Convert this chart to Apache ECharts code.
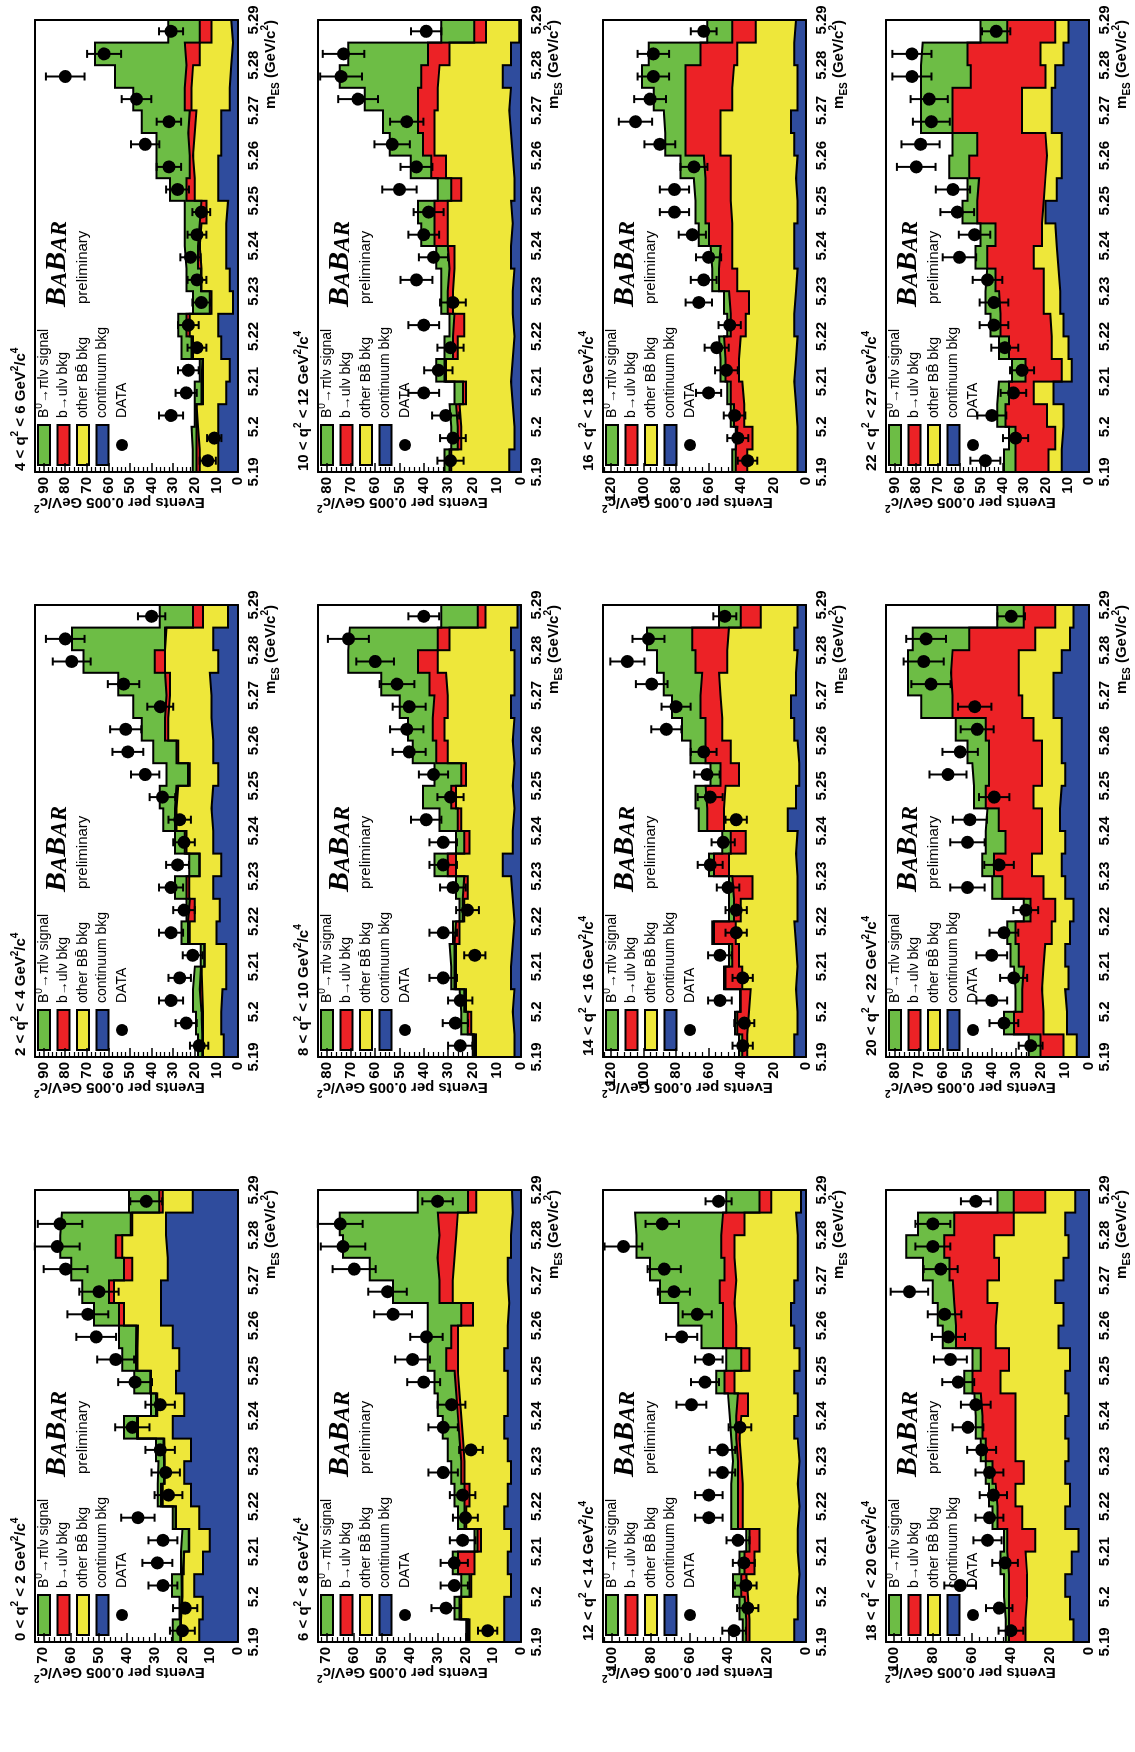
<!DOCTYPE html>
<html><head><meta charset="utf-8">
<script src="https://cdn.jsdelivr.net/npm/echarts@6.0.0/dist/echarts.min.js"></script>
<style>
html,body{margin:0;padding:0;overflow:hidden;background:#fff;width:1135px;height:1752px;}
#chart{position:absolute;left:0;top:0;width:1752px;height:1135px;transform-origin:0 0;transform:translate(0,1752px) rotate(-90deg);background:#fff;}
</style></head><body><div id="chart"></div>
<script>
// ---- bin edges of m_ES (GeV/c^2) ----
const binEdges = [5.19,5.195,5.2,5.205,5.21,5.215,5.22,5.225,5.23,5.235,5.24,5.245,5.25,5.255,5.26,5.265,5.27,5.275,5.28,5.285,5.29];
// ---- q^2 ranges of the 12 panels ----
const q2Low  = [0,2,4,6,8,10,12,14,16,18,20,22];
const q2High = [2,4,6,8,10,12,14,16,18,20,22,27];
const yMax   = [73,94,94,73,83.5,83.5,104.5,125,125,104,83.5,94];
const yStep  = [10,10,10,10,10,10,20,20,20,20,10,10];

// ---- 0 < q2 < 2 ----
const cont_q0_2 = [13.9,12.7,15.7,12.6,10.2,13.9,16.9,19.3,16.9,23.5,19.3,22.3,21.1,23.5,27.7,27.7,25.3,25.9,25.9,16.3];
const bb_q0_2   = [6.6,7.3,4.3,6.7,7.3,8.4,10.2,7.0,9.6,12.5,9.7,9.0,15.0,12.5,13.3,16.9,12.7,15.7,12.1,10.8];
const bulv_q0_2 = [0.3,0.2,0.3,0.2,0.2,0.2,0.6,0.3,0.4,0.3,0.5,0.3,0.6,0.6,1.8,1.8,3.0,2.4,0.6,1.2];
const sig_q0_2  = [2.7,0.8,3.4,1.0,2.3,1.0,1.2,2.0,2.6,4.7,1.8,5.7,4.9,6.2,9.0,9.6,19.0,19.9,24.7,10.9];
const data_q0_2 = [20,19,27,29,27,36,25,26,28,38,28,37,44,51,54,50,62,65,64,33];
// ---- 2 < q2 < 4 ----
const cont_q2_4 = [6.6,7.7,7.2,5.4,5.4,10.0,8.5,11.5,7.7,11.5,12.3,11.5,9.2,11.5,12.3,12.3,13.1,9.2,11.5,4.6];
const bb_q2_4   = [9.6,8.5,9.4,11.5,10.0,12.3,11.5,11.1,10.0,12.3,16.2,16.2,13.1,16.2,20.0,19.2,18.4,24.6,21.6,11.6];
const bulv_q2_4 = [0.3,0.7,1.1,0.3,0.2,0.8,2.3,1.2,0.3,0.8,0.7,0.8,0.8,0.8,1.5,1.6,2.3,4.7,0.7,4.6];
const sig_q2_4  = [2.0,2.6,3.1,2.8,1.6,3.1,1.5,5.4,4.6,4.6,5.4,7.7,10.0,10.7,10.8,15.4,21.6,33.0,43.1,15.4];
const data_q2_4 = [18,24,31,27,21,31,25,31,28,25,27,35,43,51,52,36,53,77,80,40];
// ---- 4 < q2 < 6 ----
const cont_q4_6 = [9.2,9.2,9.2,5.4,3.8,7.7,9.2,2.3,3.8,5.4,5.4,4.6,9.2,9.2,7.7,7.7,3.8,3.1,2.3,3.1];
const bb_q4_6   = [8.5,9.3,10.0,10.8,12.4,13.1,13.1,10.0,13.1,12.3,11.5,10.0,10.8,11.6,12.3,11.5,17.7,17.7,15.4,9.2];
const bulv_q4_6 = [1.5,0.7,0.2,0.7,0.2,0.7,1.5,0.8,0.2,0.8,0.8,2.3,3.8,1.5,3.0,3.1,3.1,3.0,6.9,5.4];
const sig_q4_6  = [1.8,2.3,0.6,3.1,1.3,4.7,3.9,7.7,6.7,6.1,6.9,7.7,7.7,15.4,14.7,22.3,23.9,33.1,41.6,14.6];
const data_q4_6 = [14,11,31,24,23,19,23,17,19,22,19,17,28,32,43,32,47,80,62,31];
// ---- 6 < q2 < 8 ----
const cont_q6_8 = [6.0,6.0,3.6,4.8,3.6,6.0,4.8,3.6,4.8,6.0,4.8,4.8,6.0,4.8,4.2,4.8,4.8,3.6,3.0,3.2];
const bb_q6_8   = [12.5,15.5,14.3,11.9,10.8,13.7,13.7,16.7,16.1,15.5,17.3,17.9,16.7,17.9,13.1,19.7,19.1,19.7,19.7,12.9];
const bulv_q6_8 = [0.6,0.6,0.6,6.0,1.2,0.6,1.8,1.2,1.2,1.2,1.2,1.2,4.2,2.4,4.2,4.8,6.1,6.0,7.2,3.0];
const sig_q6_8  = [0.6,1.8,3.0,1.8,1.1,2.4,3.6,3.6,4.2,5.4,6.6,7.2,6.6,8.4,12.0,16.7,24.4,34.7,35.3,18.0];
const data_q6_8 = [12,27,24,24,21,20,21,28,18,28,25,35,39,34,46,48,60,64,65,30];
// ---- 8 < q2 < 10 ----
const cont_q8_10 = [2.7,3.4,2.7,4.1,3.4,2.7,3.4,4.1,7.5,3.4,2.7,3.4,2.7,3.4,2.7,4.1,2.7,2.7,4.1,1.4];
const bb_q8_10   = [15.8,17.1,19.9,22.6,23.3,22.6,19.9,17.8,19.2,17.8,21.9,23.3,19.9,26.7,28.8,26.0,28.1,31.5,25.3,13.2];
const bulv_q8_10 = [0.7,1.4,0.7,0.7,0.7,1.4,0.7,1.4,3.4,2.1,1.4,2.0,2.0,4.8,4.8,5.5,6.8,8.2,4.8,3.2];
const sig_q8_10  = [0.6,2.7,2.0,1.3,2.0,1.3,1.3,3.4,5.5,3.4,7.5,11.6,11.0,9.6,10.2,14.3,19.9,28.7,36.2,15.0];
const data_q8_10 = [25,27,25,32,19,32,22,28,32,32,39,29,36,46,47,46,51,60,71,40];
// ---- 10 < q2 < 12 ----
const cont_q10_12 = [4.8,2.7,3.4,4.1,3.4,2.7,3.4,3.4,2.7,4.1,3.4,4.1,2.7,3.4,4.1,4.8,4.1,7.5,4.1,0.7];
const bb_q10_12   = [23.9,21.9,21.9,18.5,27.4,23.3,19.9,24.6,24.7,23.3,26.7,26.0,21.9,27.4,31.5,30.8,30.1,26.0,25.3,13.7];
const bulv_q10_12 = [0.7,1.4,1.4,1.3,0.7,2.0,4.1,2.1,2.0,2.7,5.5,5.5,4.1,6.1,4.7,6.8,8.2,7.5,8.9,4.8];
const sig_q10_12  = [2.1,2.7,2.7,3.5,3.4,3.5,2.0,2.7,3.4,4.8,5.4,6.8,5.5,8.5,13.7,14.4,21.9,33.6,32.8,13.6];
const data_q10_12 = [29,28,31,40,34,29,40,28,43,36,40,38,50,43,53,47,67,74,73,39];
// ---- 12 < q2 < 14 ----
const cont_q12_14 = [6.0,4.3,3.4,4.3,4.3,3.4,4.3,3.4,4.3,6.0,4.3,6.0,3.4,6.0,7.7,6.0,4.3,4.3,5.1,2.6];
const bb_q12_14   = [23.1,25.6,27.4,22.2,19.6,29.1,28.2,29.9,29.9,27.3,25.6,30.8,25.7,29.9,29.1,29.9,32.5,32.5,26.5,15.3];
const bulv_q12_14 = [1.7,1.7,2.5,5.1,5.2,2.5,2.5,1.7,1.7,2.6,5.1,5.1,4.2,6.8,5.9,8.5,5.1,6.8,11.1,6.0];
const sig_q12_14  = [1.7,2.6,4.3,2.6,1.7,3.5,3.5,2.6,2.6,3.4,5.2,4.3,7.7,11.1,23.1,30.8,38.4,43.6,45.3,17.1];
const data_q12_14 = [37,30,31,32,35,50,50,43,43,34,59,52,50,64,56,68,73,94,74,45];
// ---- 14 < q2 < 16 ----
const cont_q14_16 = [7.2,5.2,6.2,5.2,6.2,7.2,5.2,5.2,6.2,5.2,11.3,6.2,4.1,5.2,7.2,9.3,6.2,5.2,7.2,5.2];
const bb_q14_16   = [28.9,29.9,27.8,34.0,35.0,36.1,35.0,27.8,41.2,31.9,39.2,43.3,37.1,41.2,44.3,43.3,47.4,43.3,40.2,22.6];
const bulv_q14_16 = [3.1,7.2,6.2,10.3,4.2,13.4,4.1,12.4,9.3,9.3,10.3,12.4,11.4,15.5,10.4,12.3,10.3,19.5,22.7,12.4];
const sig_q14_16  = [2.0,1.4,0.4,1.0,2.0,1.0,3.1,2.0,3.1,5.1,5.2,6.1,6.2,9.2,14.4,17.6,23.7,23.8,27.8,13.4];
const data_q14_16 = [39,38,53,39,53,43,43,48,59,51,43,59,61,63,86,80,95,110,97,50];
// ---- 16 < q2 < 18 ----
const cont_q16_18 = [5.2,5.2,6.2,7.2,6.2,5.2,7.2,6.2,5.2,7.2,7.2,5.2,6.2,5.2,7.2,9.3,5.2,5.2,7.2,6.2];
const bb_q16_18   = [30.9,27.8,31.9,32.0,35.0,35.0,29.9,28.9,37.1,38.2,38.2,41.2,40.2,41.2,45.4,43.3,40.2,39.1,35.1,24.7];
const bulv_q16_18 = [7.2,9.3,6.2,7.2,8.3,10.3,9.3,12.3,11.3,7.2,14.4,15.5,15.5,16.5,21.6,21.6,28.8,29.9,22.6,14.5];
const sig_q16_18  = [2.1,1.0,2.1,2.1,3.1,3.1,2.1,3.1,4.1,6.2,6.2,6.1,7.2,14.4,12.4,13.4,19.6,26.8,32.0,15.4];
const data_q16_18 = [36,42,44,60,49,55,47,66,63,60,70,81,81,69,90,105,96,94,94,63];
// ---- 18 < q2 < 20 ----
const cont_q18_20 = [8.0,9.7,12.2,8.8,5.4,12.2,9.7,12.2,10.5,12.2,10.5,12.2,9.7,15.6,13.1,17.3,13.1,10.5,12.2,7.1];
const bb_q18_20   = [24.5,22.0,19.5,23.7,22.1,22.0,27.9,21.2,27.1,25.4,27.1,33.1,31.3,32.2,33.8,34.7,33.0,38.1,26.3,15.3];
const bulv_q18_20 = [8.5,9.3,9.3,9.4,14.4,12.7,10.2,16.1,15.3,17.0,17.8,14.4,14.4,20.3,22.1,17.8,25.4,25.5,30.5,16.1];
const sig_q18_20  = [1.7,2.6,2.6,3.4,1.7,2.6,3.4,3.4,2.5,3.4,3.4,4.2,4.3,6.8,8.5,10.2,13.6,19.5,18.6,8.4];
const data_q18_20 = [40,46,66,43,52,51,49,51,55,62,58,67,71,72,74,92,76,80,80,58];
// ---- 20 < q2 < 22 ----
const cont_q20_22 = [5.0,9.1,9.8,8.4,9.8,7.8,6.4,9.8,11.2,9.8,11.9,11.2,9.8,11.2,11.2,14.6,14.6,11.2,7.8,6.4];
const bb_q20_22   = [5.5,9.6,9.5,10.3,8.2,7.5,7.5,8.9,12.2,9.5,7.4,11.6,9.5,8.1,11.6,12.9,14.3,17.7,14.3,7.5];
const bulv_q20_22 = [9.5,12.2,8.2,8.1,10.9,14.9,10.2,17.0,15.7,15.0,17.8,19.7,21.8,21.8,19.7,28.6,27.9,27.2,27.2,12.9];
const sig_q20_22  = [4.8,4.1,2.7,4.1,3.4,3.4,2.7,4.1,4.8,8.2,4.7,4.8,6.9,8.9,12.3,12.9,17.7,18.4,23.2,10.9];
const data_q20_22 = [24,35,40,31,40,35,26,50,37,50,49,39,58,53,46,47,65,68,67,32];
// ---- 22 < q2 < 27 ----
const cont_q22_27 = [12.6,11.8,11.8,16.4,8.0,9.5,11.8,13.3,14.1,14.9,15.6,20.2,14.9,12.6,12.6,17.2,17.2,15.6,11.8,9.5];
const bb_q22_27   = [6.1,3.8,7.7,9.2,4.6,7.7,6.1,7.7,6.9,10.7,6.2,0.8,5.3,6.9,7.6,13.8,13.8,4.6,10.7,6.1];
const bulv_q22_27 = [15.3,18.4,19.2,11.5,16.8,19.9,23.1,20.7,22.3,21.5,21.5,30.7,30.7,36.0,31.5,32.2,32.2,34.6,33.8,22.3];
const sig_q22_27  = [5.4,3.1,3.8,4.6,6.2,4.6,4.6,6.2,3.8,5.4,6.9,6.9,5.4,9.2,11.5,14.6,14.6,23.0,20.7,12.3];
const data_q22_27 = [48,34,45,35,31,39,44,44,47,60,53,61,63,80,78,73,74,82,82,43];

const panels = [
  {cont:cont_q0_2,  bb:bb_q0_2,  bulv:bulv_q0_2,  sig:sig_q0_2,  data:data_q0_2},
  {cont:cont_q2_4,  bb:bb_q2_4,  bulv:bulv_q2_4,  sig:sig_q2_4,  data:data_q2_4},
  {cont:cont_q4_6,  bb:bb_q4_6,  bulv:bulv_q4_6,  sig:sig_q4_6,  data:data_q4_6},
  {cont:cont_q6_8,  bb:bb_q6_8,  bulv:bulv_q6_8,  sig:sig_q6_8,  data:data_q6_8},
  {cont:cont_q8_10, bb:bb_q8_10, bulv:bulv_q8_10, sig:sig_q8_10, data:data_q8_10},
  {cont:cont_q10_12,bb:bb_q10_12,bulv:bulv_q10_12,sig:sig_q10_12,data:data_q10_12},
  {cont:cont_q12_14,bb:bb_q12_14,bulv:bulv_q12_14,sig:sig_q12_14,data:data_q12_14},
  {cont:cont_q14_16,bb:bb_q14_16,bulv:bulv_q14_16,sig:sig_q14_16,data:data_q14_16},
  {cont:cont_q16_18,bb:bb_q16_18,bulv:bulv_q16_18,sig:sig_q16_18,data:data_q16_18},
  {cont:cont_q18_20,bb:bb_q18_20,bulv:bulv_q18_20,sig:sig_q18_20,data:data_q18_20},
  {cont:cont_q20_22,bb:bb_q20_22,bulv:bulv_q20_22,sig:sig_q20_22,data:data_q20_22},
  {cont:cont_q22_27,bb:bb_q22_27,bulv:bulv_q22_27,sig:sig_q22_27,data:data_q22_27}
];

// ---- layout & style (landscape page, rotated by CSS) ----
const COLS = [110, 695, 1280], ROWS = [35, 318, 603, 886], GW = 452, GH = 203;
const FONT = 'Liberation Sans';
const COLORS = {sig:'#6dbd45', bulv:'#ec2226', bb:'#eee73a', cont:'#2f4c9d'};
const COMP_ORDER = ['cont','bb','bulv','sig'];
const LEGEND = [
  {key:'sig',  text:'{n|B}{s|0}{n|→πlν signal}'},
  {key:'bulv', text:'{n|b→ulν bkg}'},
  {key:'bb',   text:'{n|other BB\u0304 bkg}'},
  {key:'cont', text:'{n|continuum bkg}'},
  {key:'data', text:'{n|DATA}'}
];

function rich(fs, bold) {
  const w = bold ? 'bold' : 'normal';
  const ss = Math.round(fs * 0.68);
  return {
    n: {fontSize: fs, fontWeight: w, fontFamily: FONT, lineHeight: fs + 6, fill: '#000'},
    s: {fontSize: ss, fontWeight: w, fontFamily: FONT, lineHeight: ss, verticalAlign: 'top', fill: '#000'},
    d: {fontSize: ss, fontWeight: w, fontFamily: FONT, lineHeight: ss, verticalAlign: 'bottom', fill: '#000'}
  };
}
function txt(x, y, text, r, align, valign, rotation) {
  return {type: 'text', x: x, y: y, rotation: rotation || 0, silent: true,
    style: {text: text, rich: r, fill: '#000', fontFamily: FONT, fontSize: 14,
      align: align, textAlign: align, verticalAlign: valign, textVerticalAlign: valign}};
}

const centers = binEdges.slice(0, 20).map((e, i) => (e + binEdges[i + 1]) / 2);
// histogram step points: one point per left bin edge plus the closing right edge
const stepData = vals => binEdges.map((e, i) => [e, vals[Math.min(i, vals.length - 1)]]);

const grid = [], xAxis = [], yAxis = [], series = [], elements = [];
const blackLine = {show: true, onZero: false, lineStyle: {color: '#000', width: 2}};
const noThing = {show: false};

panels.forEach((p, k) => {
  const gx = COLS[k % 3], gy = ROWS[Math.floor(k / 3)];
  grid.push({left: gx, top: gy, width: GW, height: GH, show: false, containLabel: false, outerBoundsMode: 'none'});
  const xi = xAxis.length, yi = yAxis.length;
  xAxis.push({gridIndex: k, type: 'value', min: 5.19, max: 5.29, interval: 0.01, position: 'bottom', z: 0,
    axisLine: {show: false, onZero: false},
    axisTick: {show: true, inside: true, length: 8, lineStyle: {color: '#000', width: 1.5}},
    splitLine: noThing,
    axisLabel: {show: true, margin: 8, fontSize: 15, fontWeight: 'bold', color: '#000', fontFamily: FONT,
      formatter: v => String(Math.round(v * 100) / 100)}});
  xAxis.push({gridIndex: k, type: 'value', min: 5.19, max: 5.29, position: 'top', z: 8,
    axisLine: blackLine, axisTick: noThing, axisLabel: noThing, splitLine: noThing});
  xAxis.push({gridIndex: k, type: 'value', min: 5.19, max: 5.29, position: 'bottom', z: 8,
    axisLine: blackLine, axisTick: noThing, axisLabel: noThing, splitLine: noThing});
  yAxis.push({gridIndex: k, type: 'value', min: 0, max: yMax[k], interval: yStep[k], position: 'left', z: 0,
    axisLine: {show: false, onZero: false},
    axisTick: {show: true, inside: true, length: 9, lineStyle: {color: '#000', width: 1.5}},
    minorTick: {show: true, splitNumber: 5, length: 5, lineStyle: {color: '#000', width: 1.2}},
    splitLine: noThing, minorSplitLine: noThing,
    axisLabel: {show: true, margin: 5, fontSize: 15, fontWeight: 'bold', color: '#000', fontFamily: FONT}});
  yAxis.push({gridIndex: k, type: 'value', min: 0, max: yMax[k], position: 'right', z: 8,
    axisLine: blackLine, axisTick: noThing, axisLabel: noThing, splitLine: noThing});
  yAxis.push({gridIndex: k, type: 'value', min: 0, max: yMax[k], position: 'left', z: 8,
    axisLine: blackLine, axisTick: noThing, axisLabel: noThing, splitLine: noThing});

  // cumulative tops of the stack (continuum, +BB, +b->ulv, +signal)
  const cum = [];
  let acc = new Array(20).fill(0);
  COMP_ORDER.forEach(key => { acc = acc.map((a, i) => a + p[key][i]); cum.push(acc); });

  // fills: painted from the tallest (total) downward, each from 0 to its cumulative top
  for (let j = 3; j >= 0; j--) {
    series.push({type: 'line', name: COMP_ORDER[j] + '_' + k, xAxisIndex: xi, yAxisIndex: yi,
      step: 'end', data: stepData(cum[j]), symbol: 'none', showSymbol: false, silent: true, z: 2,
      lineStyle: {width: 0, opacity: 0}, areaStyle: {color: COLORS[COMP_ORDER[j]], opacity: 1, origin: 'start'}});
  }
  // black outlines of every stack boundary
  for (let j = 0; j < 4; j++) {
    series.push({type: 'line', name: COMP_ORDER[j] + '_edge_' + k, xAxisIndex: xi, yAxisIndex: yi,
      step: 'end', data: stepData(cum[j]), symbol: 'none', showSymbol: false, silent: true, z: 3,
      lineStyle: {width: 2, color: '#000', opacity: 1, join: 'miter'}});
  }
  // error bars on data
  series.push({type: 'custom', name: 'err_' + k, xAxisIndex: xi, yAxisIndex: yi, z: 4, silent: true,
    data: p.data.map((v, i) => [centers[i], v - Math.sqrt(v), v + Math.sqrt(v)]),
    encode: {x: 0, y: [1, 2]},
    renderItem: (params, api) => {
      const x = api.value(0);
      const lo = api.coord([x, api.value(1)]);
      const hi = api.coord([x, api.value(2)]);
      const c = 4, st = {stroke: '#000', lineWidth: 2};
      return {type: 'group', children: [
        {type: 'line', shape: {x1: lo[0], y1: lo[1], x2: hi[0], y2: hi[1]}, style: st},
        {type: 'line', shape: {x1: lo[0] - c, y1: lo[1], x2: lo[0] + c, y2: lo[1]}, style: st},
        {type: 'line', shape: {x1: hi[0] - c, y1: hi[1], x2: hi[0] + c, y2: hi[1]}, style: st}
      ]};
    }});
  // data points
  series.push({type: 'scatter', name: 'DATA_' + k, xAxisIndex: xi, yAxisIndex: yi, z: 5, silent: true,
    data: p.data.map((v, i) => [centers[i], v]), symbol: 'circle', symbolSize: 13,
    itemStyle: {color: '#000', opacity: 1}});

  // ---- texts ----
  elements.push(txt(gx + 1, gy - 14,
    '{n|' + q2Low[k] + ' < q}{s|2}{n| < ' + q2High[k] + ' GeV}{s|2}{n|/c}{s|4}', rich(15, true), 'left', 'middle'));
  elements.push(txt(gx - 30, gy - 1, '{n|Events per 0.005 GeV/c}{s|2}', rich(15, true), 'right', 'middle', Math.PI / 2));
  elements.push(txt(gx + GW, gy + GH + 33, '{n|m}{d|ES}{n| (GeV/c}{s|2}{n|)}', rich(15, true), 'right', 'middle'));
  const bab = {
    b: {fontSize: 30, fontFamily: 'Liberation Serif', fontStyle: 'italic', fontWeight: 'bold', lineHeight: 30, verticalAlign: 'bottom', fill: '#000'},
    a: {fontSize: 23, fontFamily: 'Liberation Serif', fontStyle: 'italic', fontWeight: 'bold', lineHeight: 23, verticalAlign: 'bottom', fill: '#000'}
  };
  elements.push(txt(gx + 165, gy + 22, '{b|B}{a|A}{b|B}{a|AR}', bab, 'left', 'middle'));
  elements.push(txt(gx + 168, gy + 48, '{n|preliminary}', rich(15, false), 'left', 'middle'));
  // legend
  LEGEND.forEach((it, r) => {
    const yc = gy + 9 + 19.5 * r;
    if (it.key === 'data') {
      elements.push({type: 'circle', silent: true, shape: {cx: gx + 27, cy: yc, r: 6}, style: {fill: '#000'}});
    } else {
      elements.push({type: 'rect', silent: true, shape: {x: gx + 7, y: yc - 6, width: 40, height: 12},
        style: {fill: COLORS[it.key], stroke: '#000', lineWidth: 2}});
    }
    elements.push(txt(gx + 54, yc, it.text, rich(14, false), 'left', 'middle'));
  });
});

const chart = echarts.init(document.getElementById('chart'), null, {renderer: 'canvas', width: 1752, height: 1135});
chart.setOption({
  animation: false,
  backgroundColor: '#fff',
  grid: grid, xAxis: xAxis, yAxis: yAxis, series: series,
  graphic: {elements: elements}
});
</script></body></html>
